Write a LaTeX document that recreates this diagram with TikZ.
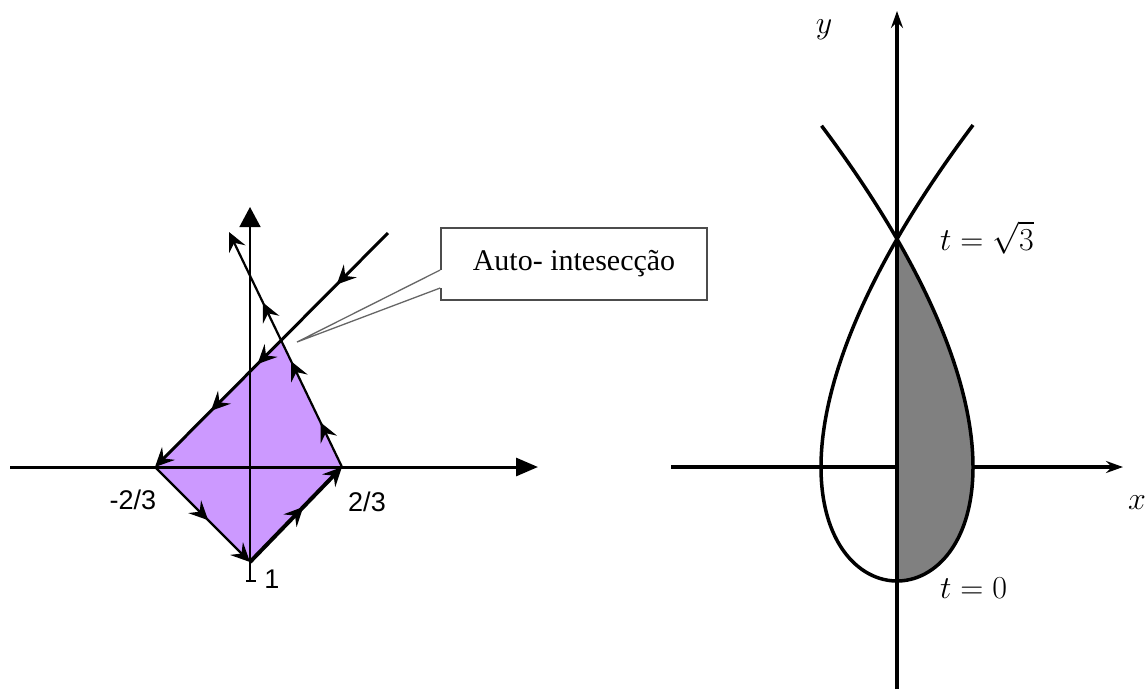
\RequirePackage{fix-cm}
\documentclass[tikz,border=0pt]{standalone}
\usepackage{fontspec}
\usepackage{amsmath}
\usepackage{xcolor}
\usepackage{tikz}
\usetikzlibrary{arrows.meta, decorations.markings}
\newfontfamily\labelfont{Liberation Sans}
\newfontfamily\boxfont{Liberation Serif}
\definecolor{lilac}{RGB}{204,153,255}

\begin{document}
\begin{tikzpicture}[x=1pt, y=-1pt,
  flow/.style={postaction={decorate, decoration={markings,
    mark=at position #1 with {\arrow{Stealth[length=19pt,width=18pt,inset=7pt]}}}}},
  tip/.style={-{Stealth[length=19pt,width=18pt,inset=7pt]}},
  mathlabel/.style={inner sep=0pt, font=\fontsize{32}{38}\selectfont},
  numlabel/.style={inner sep=0pt, font=\labelfont\fontsize{27}{32}\selectfont}]
\useasboundingbox (0,0) rectangle (1146,689);

% left picture
\coordinate (L) at (155,467);
\coordinate (B) at (250,562);
\coordinate (R) at (342,467);
\coordinate (X) at (282,341);
\coordinate (E1) at (388,233);
\coordinate (E2) at (229,232);
\fill[lilac] (L) -- (B) -- (R) -- (X) -- cycle;
\draw[line width=3pt, -{Triangle[length=22pt,width=18pt]}] (10,467) -- (538,467);
\draw[line width=1.5pt, -{Triangle[length=20pt,width=21pt]}] (250,581) -- (250,207);
\draw[line width=1.5pt] (246,581) -- (256,581);
\draw[line width=3pt, tip, flow=0.22, flow=0.56, flow=0.76] (E1) -- (L);
\draw[line width=2.2pt, tip, flow=0.56] (L) -- (B);
\draw[line width=4pt, tip, flow=0.58] (B) -- (R);
\draw[line width=2.2pt, tip, flow=0.19, flow=0.45, flow=0.70] (R) -- (E2);
\node[numlabel] (lm) at (133,500) {-2/3};
\node[numlabel] (lp) at (367,502) {2/3};
\node[numlabel] (lone) at (272,579) {1};

% callout
\node[draw=black!70, line width=1.6pt, minimum width=266pt, minimum height=72pt,
  font=\boxfont\fontsize{30}{36}\selectfont] (callout) at (574,264) {Auto- intesecção};
\coordinate (gapA) at ([yshift=-6pt]callout.west);
\coordinate (gapB) at ([yshift=-24pt]callout.west);
\coordinate (ptr) at (297,342);
\draw[white, line width=4pt] (gapA) -- (gapB);
\draw[black!60, line width=1.3pt] (gapA) -- (ptr) -- (gapB);

% right picture
\draw[line width=3.5pt, -{Stealth[length=17pt,width=12pt,inset=6pt]}] (671,467) -- (1123,467);
\fill[gray] plot[domain=0:1.7320508, samples=60, smooth] ({897+114*(\x-\x*\x*\x/3)}, {467-114*(\x*\x-1)}) -- cycle;
\draw[line width=3.5pt, -{Stealth[length=17pt,width=12pt,inset=6pt]}] (897,689) -- (897,11);
\draw[line width=3.5pt] plot[domain=-2:2, samples=120, smooth] ({897+114*(\x-\x*\x*\x/3)}, {467-114*(\x*\x-1)});
\node[mathlabel] (ylab) at (824,30) {$y$};
\node[mathlabel] (xlab) at (1137,503) {$x$};
\node[mathlabel, anchor=base west] (tsq) at (940,250) {$t=\sqrt{3}$};
\node[mathlabel, anchor=base west] (tzero) at (940,598) {$t=0$};
\end{tikzpicture}
\end{document}
